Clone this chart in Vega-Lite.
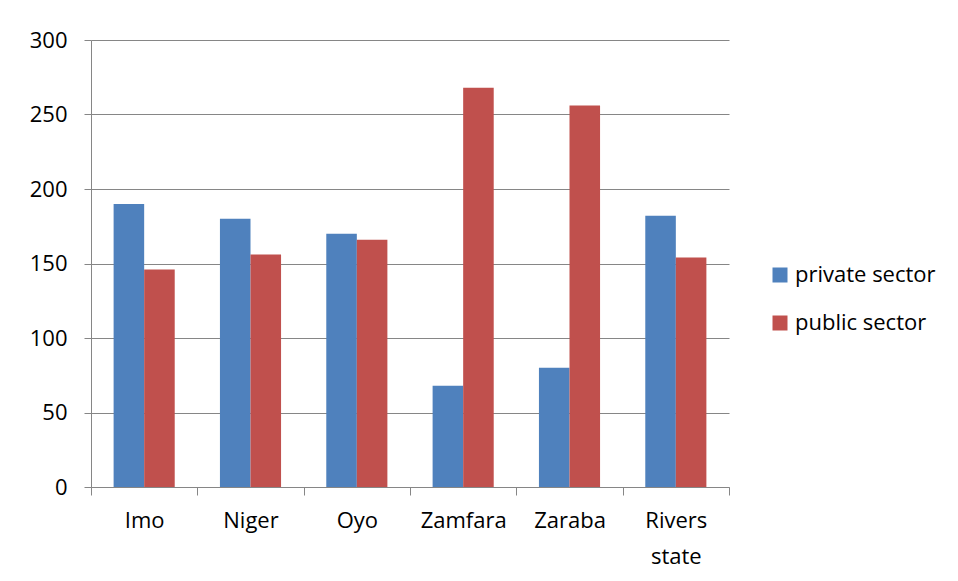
{
  "$schema": "https://vega.github.io/schema/vega-lite/v6.json",
  "autosize": {"type": "none"},
  "padding": {"left": 91, "top": 40, "right": 229, "bottom": 94},
  "width": 638,
  "height": 447,
  "background": "white",
  "config": {
    "view": {"stroke": null},
    "font": "Open Sans",
    "axis": {
      "labelFont": "Open Sans",
      "labelFontSize": 22,
      "labelColor": "#000000",
      "domainColor": "#868686",
      "tickColor": "#868686",
      "gridColor": "#868686",
      "gridOpacity": 1,
      "domainWidth": 1,
      "tickWidth": 1
    }
  },
  "data": {
    "values": [
      {"state": "Imo", "sector": "private sector", "value": 190},
      {"state": "Imo", "sector": "public sector", "value": 146},
      {"state": "Niger", "sector": "private sector", "value": 180},
      {"state": "Niger", "sector": "public sector", "value": 156},
      {"state": "Oyo", "sector": "private sector", "value": 170},
      {"state": "Oyo", "sector": "public sector", "value": 166},
      {"state": "Zamfara", "sector": "private sector", "value": 68},
      {"state": "Zamfara", "sector": "public sector", "value": 268},
      {"state": "Zaraba", "sector": "private sector", "value": 80},
      {"state": "Zaraba", "sector": "public sector", "value": 256},
      {"state": "Rivers state", "sector": "private sector", "value": 182},
      {"state": "Rivers state", "sector": "public sector", "value": 154}
    ]
  },
  "mark": {"type": "bar"},
  "encoding": {
    "x": {
      "field": "state",
      "type": "nominal",
      "sort": null,
      "scale": {"paddingInner": 0, "paddingOuter": 0},
      "axis": {
        "title": null,
        "labelAngle": 0,
        "tickBand": "extent",
        "tickSize": 8,
        "labelPadding": 15,
        "labelLineHeight": 36,
        "labelExpr": "split(datum.label, ' ')",
        "grid": false
      }
    },
    "xOffset": {"field": "sector", "type": "nominal", "scale": {"paddingInner": 0, "paddingOuter": 0.74}},
    "y": {
      "field": "value",
      "type": "quantitative",
      "scale": {"domain": [0, 300], "nice": false},
      "axis": {
        "title": null,
        "values": [0, 50, 100, 150, 200, 250, 300],
        "tickSize": 7,
        "labelPadding": 17,
        "grid": true
      }
    },
    "color": {
      "field": "sector",
      "type": "nominal",
      "scale": {"domain": ["private sector", "public sector"], "range": ["#4F81BD", "#C0504D"]},
      "legend": {
        "title": null,
        "orient": "none",
        "legendX": 678,
        "legendY": 224,
        "symbolType": "square",
        "symbolSize": 225,
        "symbolStrokeWidth": 0,
        "labelFont": "Open Sans",
        "labelFontSize": 22,
        "labelColor": "#000000",
        "labelOffset": 4,
        "rowPadding": 26
      }
    }
  }
}
